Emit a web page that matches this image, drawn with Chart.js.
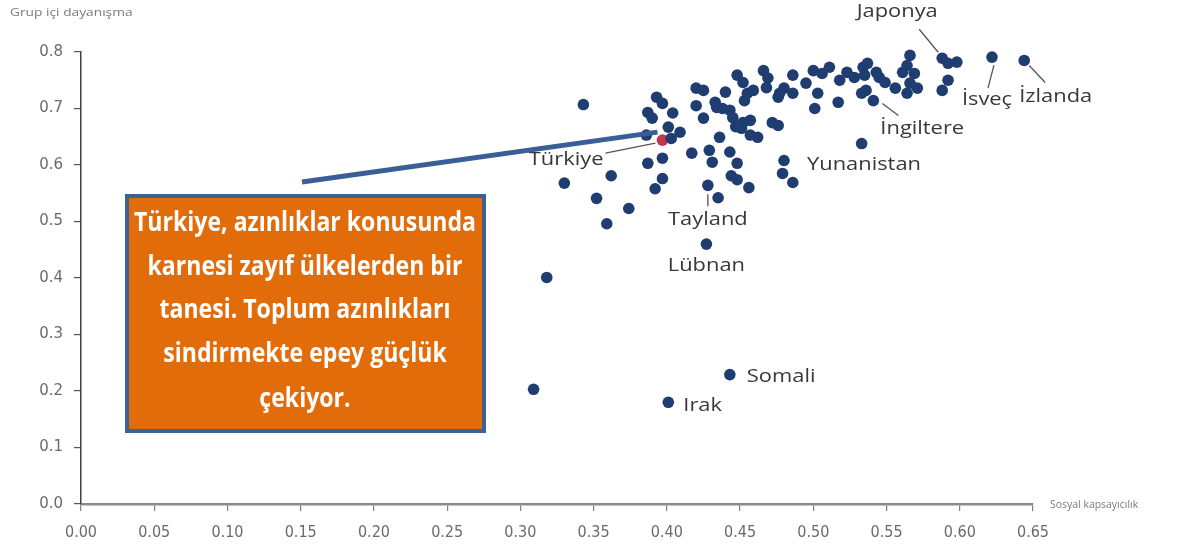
<!DOCTYPE html>
<html>
<head>
<meta charset="utf-8">
<script src="https://cdn.jsdelivr.net/npm/chart.js@4.4.1/dist/chart.umd.min.js"></script>
<style>
  html, body { margin: 0; padding: 0; background: #fff; }
  #wrap { width: 1200px; height: 553px; }
</style>
</head>
<body>
<div id="wrap"><canvas id="scatter_chart"></canvas></div>
<script>
// Sosyal kapsayıcılık (x) / Grup içi dayanışma (y)
// first nine points are the named countries
var xValues = [
  0.588, 0.622, 0.644, 0.541, 0.480, 0.428, 0.427, 0.443, 0.401,
  0.309, 0.318, 0.343, 0.330, 0.352, 0.359, 0.374, 0.362, 0.392, 0.397,
  0.387, 0.397, 0.417, 0.429, 0.431, 0.435, 0.456, 0.436, 0.443, 0.448,
  0.444, 0.448, 0.479, 0.486, 0.533,
  0.393, 0.397, 0.387, 0.390, 0.404, 0.401, 0.409, 0.386, 0.403, 0.420,
  0.425, 0.420, 0.425, 0.448, 0.452, 0.466, 0.469, 0.468, 0.440, 0.455,
  0.459, 0.453, 0.433, 0.438, 0.443, 0.445, 0.457, 0.451, 0.457, 0.462,
  0.472, 0.476, 0.477, 0.480, 0.486, 0.486, 0.495, 0.500, 0.506, 0.511,
  0.503, 0.501, 0.518, 0.517, 0.523, 0.528, 0.534, 0.533, 0.537, 0.535,
  0.543, 0.545, 0.536, 0.566, 0.564, 0.561, 0.569, 0.566, 0.571, 0.564,
  0.556, 0.549, 0.592, 0.598, 0.592, 0.588, 0.476, 0.452, 0.434, 0.447
];
var yValues = [
  0.789, 0.791, 0.785, 0.714, 0.608, 0.564, 0.460, 0.229, 0.180,
  0.203, 0.401, 0.707, 0.568, 0.541, 0.496, 0.523, 0.581, 0.558, 0.576,
  0.603, 0.612, 0.621, 0.626, 0.605, 0.542, 0.560, 0.649, 0.623, 0.603,
  0.581, 0.574, 0.585, 0.569, 0.638,
  0.720, 0.709, 0.693, 0.683, 0.692, 0.667, 0.658, 0.653, 0.647, 0.736,
  0.732, 0.705, 0.683, 0.759, 0.746, 0.767, 0.754, 0.737, 0.729, 0.727,
  0.732, 0.714, 0.711, 0.700, 0.697, 0.684, 0.679, 0.665, 0.653, 0.649,
  0.675, 0.670, 0.727, 0.736, 0.727, 0.759, 0.745, 0.767, 0.762, 0.773,
  0.727, 0.700, 0.750, 0.711, 0.764, 0.755, 0.773, 0.727, 0.780, 0.759,
  0.764, 0.755, 0.732, 0.794, 0.776, 0.764, 0.762, 0.745, 0.736, 0.727,
  0.736, 0.746, 0.780, 0.782, 0.750, 0.732, 0.720, 0.675, 0.702, 0.668
];
var turkeyX = [0.397];
var turkeyY = [0.644];

var labelNames = ['Japonya', 'İsveç', 'İzlanda', 'İngiltere', 'Yunanistan', 'Tayland', 'Lübnan', 'Somali', 'Irak'];
var xTickValues = [0, 0.05, 0.1, 0.15, 0.2, 0.25, 0.3, 0.35, 0.4, 0.45, 0.5, 0.55, 0.6, 0.65];
var yTickValues = [0, 0.1, 0.2, 0.3, 0.4, 0.5, 0.6, 0.7, 0.8];

var xTitle = 'Sosyal kapsayıcılık';
var yTitle = 'Grup içi dayanışma';
var noteLines = ['Türkiye, azınlıklar konusunda', 'karnesi zayıf ülkelerden bir', 'tanesi. Toplum azınlıkları', 'sindirmekte epey güçlük', 'çekiyor.'];

var points = xValues.map(function(x, i) { return { x: x, y: yValues[i] }; });
var turkeyPoints = turkeyX.map(function(x, i) { return { x: x, y: turkeyY[i] }; });

// label placement relative to its point (pixels): text offset, align, leader line
var labelLayout = [
  { dx: -45, dy: -46, align: 'center', line: [-4, -6, -23, -29] },
  { dx: -5, dy: 43, align: 'center', line: [2, 8, -4, 31] },
  { dx: -5, dy: 37, align: 'left', line: [5, 5, 21, 22] },
  { dx: 7, dy: 28, align: 'left', line: [9, 3, 25, 15] },
  { dx: 23, dy: 5, align: 'left', line: null },
  { dx: 0, dy: 35, align: 'center', line: [0, 9, 0, 21] },
  { dx: 0, dy: 22, align: 'center', line: null },
  { dx: 17, dy: 2, align: 'left', line: null },
  { dx: 15, dy: 4, align: 'left', line: null }
];

function wideText(ctx, text, x, y, align, sx) {
  ctx.save();
  ctx.translate(x, y);
  ctx.scale(sx, 1);
  ctx.textAlign = align;
  ctx.fillText(text, 0, 0);
  ctx.restore();
}

var annotations = {
  id: 'annotations',
  afterDatasetsDraw: function(chart) {
    var ctx = chart.ctx;
    var xs = chart.scales.x, ys = chart.scales.y;
    ctx.save();

    // axis titles
    ctx.fillStyle = '#7a7a7a';
    ctx.font = '11px "Open Sans"';
    ctx.textBaseline = 'middle';
    wideText(ctx, yTitle, 10, 13, 'left', 1.25);
    wideText(ctx, xTitle, 1050, 505, 'left', 0.95);

    // country labels
    ctx.font = '17.5px "Open Sans"';
    ctx.fillStyle = '#383838';
    ctx.strokeStyle = '#555555';
    ctx.lineWidth = 1.3;
    labelNames.forEach(function(name, i) {
      var px = xs.getPixelForValue(xValues[i]);
      var py = ys.getPixelForValue(yValues[i]);
      var l = labelLayout[i];
      if (l.line) {
        ctx.beginPath();
        ctx.moveTo(px + l.line[0], py + l.line[1]);
        ctx.lineTo(px + l.line[2], py + l.line[3]);
        ctx.stroke();
      }
      wideText(ctx, name, px + l.dx, py + l.dy, l.align, 1.25);
    });

    // Türkiye label
    var tx = xs.getPixelForValue(turkeyX[0]);
    var ty = ys.getPixelForValue(turkeyY[0]);
    ctx.beginPath();
    ctx.moveTo(tx - 7, ty + 3);
    ctx.lineTo(tx - 57, ty + 13);
    ctx.stroke();
    wideText(ctx, 'Türkiye', tx - 59, ty + 20, 'right', 1.25);

    // callout line to Türkiye
    ctx.strokeStyle = '#3a5f96';
    ctx.lineWidth = 5;
    ctx.beginPath();
    ctx.moveTo(302, 182);
    ctx.lineTo(tx - 5, ty - 8);
    ctx.stroke();

    // orange note box
    ctx.fillStyle = '#e36c0a';
    ctx.fillRect(127, 196, 357, 235);
    ctx.strokeStyle = '#3b6294';
    ctx.lineWidth = 4;
    ctx.strokeRect(127, 196, 357, 235);

    ctx.fillStyle = '#ffffff';
    ctx.font = 'bold 26px "Open Sans"';
    ctx.textAlign = 'center';
    var k = 342 / ctx.measureText(noteLines[0]).width;
    var lineY = [224, 268, 311, 355, 400];
    noteLines.forEach(function(t, i) {
      var w = ctx.measureText(t).width * k;
      ctx.fillText(t, 305, lineY[i], w);
    });
    ctx.restore();
  }
};

var canvas = document.getElementById('scatter_chart');

var data = {
  datasets: [{
    data: points,
    backgroundColor: '#1f3d70',
    borderColor: '#1f3d70',
    pointRadius: 5.8,
    borderWidth: 0,
    clip: false
  }, {
    data: turkeyPoints,
    backgroundColor: '#c4354f',
    borderColor: '#c4354f',
    pointRadius: 5.8,
    borderWidth: 0,
    clip: false
  }]
};

var options = {
  responsive: false,
  animation: false,
  layout: { padding: { top: 52, right: 167, left: 0, bottom: 0 } },
  plugins: { legend: { display: false }, tooltip: { enabled: false } },
  scales: {
    x: {
      type: 'linear',
      min: 0,
      max: 0.65,
      afterBuildTicks: function(s) { s.ticks = xTickValues.map(function(v) { return { value: v }; }); },
      afterFit: function(s) { s.height = 49; },
      grid: { drawOnChartArea: false, drawTicks: true, tickLength: 7, color: '#7f7f7f', lineWidth: 1.2 },
      border: { display: true, color: '#8a8a8a', width: 2.5 },
      ticks: {
        padding: 12,
        color: '#6a6a6a',
        font: { family: '"Liberation Sans Narrow", "DejaVu Sans Condensed", sans-serif', size: 16 },
        maxRotation: 0,
        callback: function(v) { return v.toFixed(2); }
      }
    },
    y: {
      type: 'linear',
      min: 0,
      max: 0.8,
      afterBuildTicks: function(s) { s.ticks = yTickValues.map(function(v) { return { value: v }; }); },
      afterFit: function(s) { s.width = 81; },
      grid: { drawOnChartArea: false, drawTicks: true, tickLength: 7, color: '#555555', lineWidth: 1.2 },
      border: { display: true, color: '#404040', width: 1.5 },
      ticks: {
        padding: 11,
        color: '#6a6a6a',
        font: { family: '"DejaVu Sans", sans-serif', size: 15 },
        callback: function(v) { return v.toFixed(1); }
      }
    }
  }
};

canvas.width = 1200;
canvas.height = 553;
var scatterChart = new Chart(canvas, {
  type: 'scatter',
  data: data,
  options: options,
  plugins: [annotations]
});
</script>
</body>
</html>
